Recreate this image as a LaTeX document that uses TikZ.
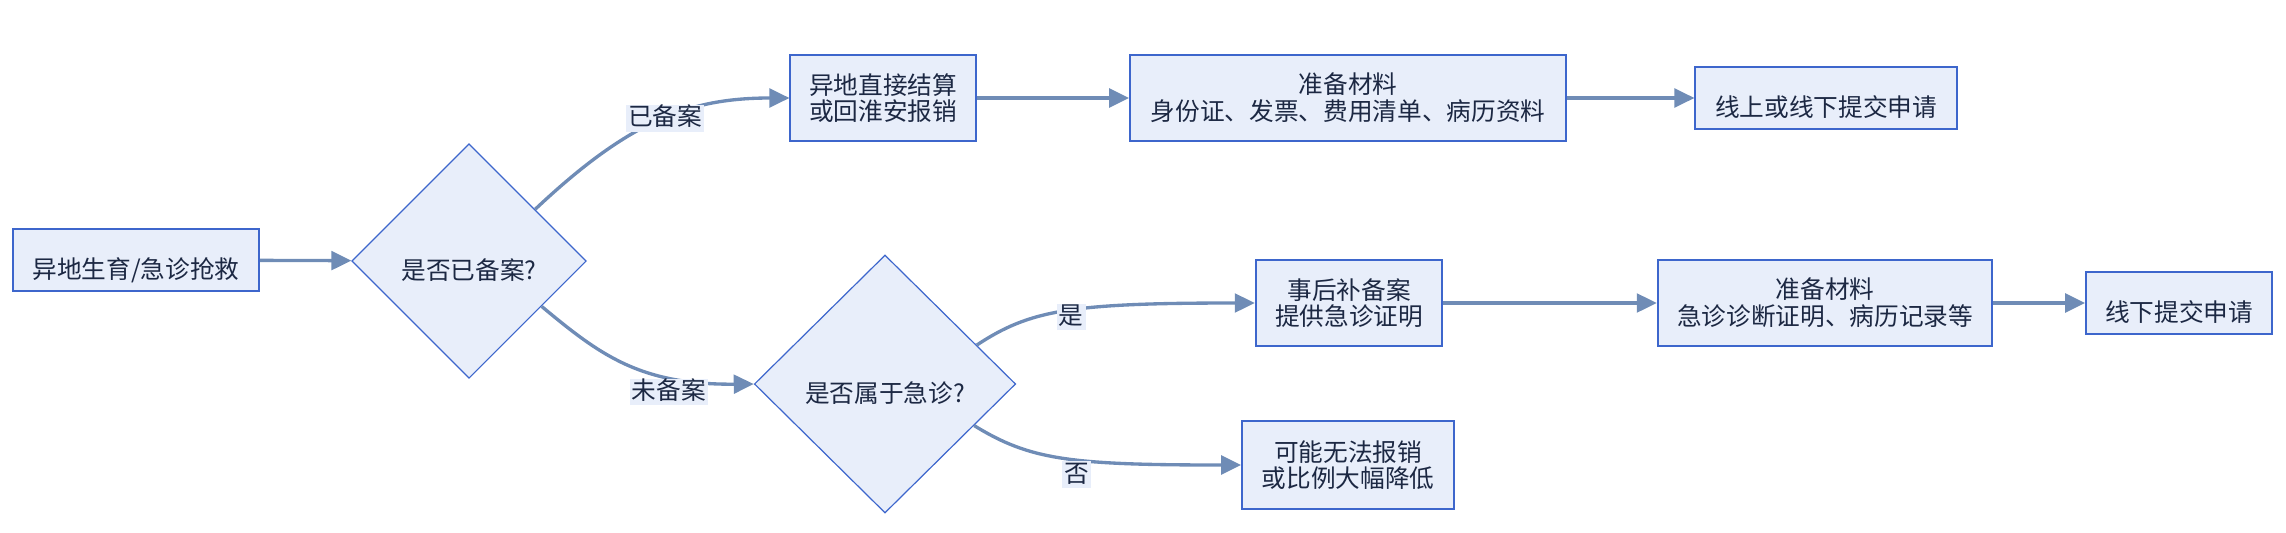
\documentclass[tikz,border=0pt]{standalone}
\usepackage{fontspec}
\setmainfont{Noto Sans CJK SC}
\usetikzlibrary{arrows.meta, shapes.geometric}

\definecolor{boxfill}{HTML}{E8EEFA}
\definecolor{boxline}{HTML}{3D66CC}
\definecolor{flowline}{HTML}{6F8CB6}
\definecolor{textcol}{HTML}{1C2843}

\begin{document}
\begin{tikzpicture}[
    x=0.75pt, y=-0.75pt,
    font=\fontsize{18.5}{20}\selectfont,
    every node/.style={text=textcol, align=center},
    box/.style={draw=boxline, fill=boxfill, line width=1.3pt, inner sep=0pt},
    decision/.style={draw=boxline, fill=boxfill, diamond, line width=0.9pt, inner sep=0pt},
    oneline/.style={text height=30pt, text depth=2pt},
    edgelabel/.style={fill=boxfill, inner sep=1.5pt, text height=14pt, text depth=3pt},
    flow/.style={->, draw=flowline, line width=2.5pt},
    >={Triangle[length=15pt, width=14pt]} % Arrow style
]
\useasboundingbox (0,0) rectangle (2286,532);

% Nodes
\node[box, oneline, minimum width=185pt, minimum height=47pt] (start) at (136,260) {异地生育/急诊抢救};
\node[decision, oneline, minimum width=176pt, minimum height=176pt] (filed) at (469,261) {是否已备案?};
\node[box, minimum width=139pt, minimum height=64.5pt] (direct) at (883,98) {异地直接结算\\或回淮安报销};
\node[box, minimum width=327pt, minimum height=64.5pt] (docsA) at (1348,98) {准备材料\\身份证、发票、费用清单、病历资料};
\node[box, oneline, minimum width=196pt, minimum height=46pt] (submitA) at (1826,98) {线上或线下提交申请};
\node[decision, oneline, minimum width=196pt, minimum height=193.5pt] (urgent) at (885,384) {是否属于急诊?};
\node[box, minimum width=140pt, minimum height=65pt] (later) at (1349,303) {事后补备案\\提供急诊证明};
\node[box, minimum width=251pt, minimum height=65pt] (docsB) at (1825,303) {准备材料\\急诊诊断证明、病历记录等};
\node[box, oneline, minimum width=139.5pt, minimum height=46pt] (submitB) at (2179,303) {线下提交申请};
\node[box, minimum width=159pt, minimum height=66pt] (fail) at (1348,465) {可能无法报销\\或比例大幅降低};

% Arrows
\draw[flow] (start) -- (filed);
\draw[flow] (filed.38) .. controls (630,120) and (690,98) .. (direct.west)
    node[edgelabel, pos=0.52] {已备案};
\draw[flow] (filed.-32) .. controls (600,355) and (640,385) .. (urgent.west)
    node[edgelabel, pos=0.7, anchor=north] {未备案};
\draw[flow] (direct) -- (docsA);
\draw[flow] (docsA) -- (submitA);
\draw[flow] (urgent.23) .. controls (1030,310) and (1070,303) .. (later.west)
    node[edgelabel, pos=0.52, yshift=-5pt] {是};
\draw[flow] (urgent.-25) .. controls (1030,460) and (1070,465) .. (fail.west)
    node[edgelabel, pos=0.55, anchor=north] {否};
\draw[flow] (later) -- (docsB);
\draw[flow] (docsB) -- (submitB);

\end{tikzpicture}
\end{document}
